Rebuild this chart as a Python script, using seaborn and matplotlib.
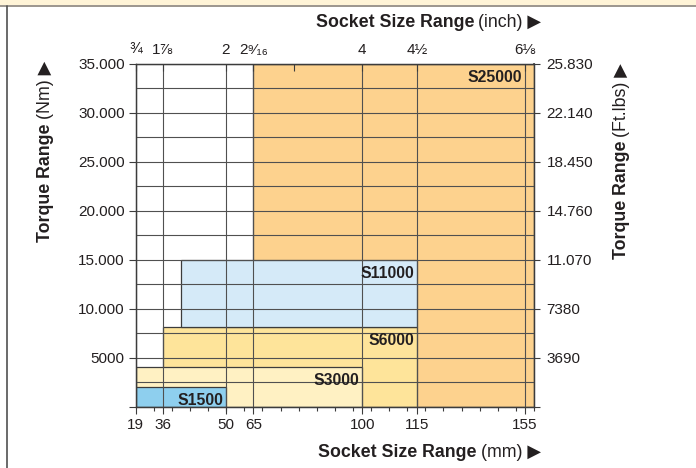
import numpy as np
import matplotlib
matplotlib.use("Agg")
import matplotlib.pyplot as plt
from matplotlib.lines import Line2D
from matplotlib.patches import Rectangle
from matplotlib.ticker import FixedLocator, MultipleLocator
import seaborn as sns

# wrench models: socket range (mm) and torque range (Nm)
models = ["S25000", "S6000", "S11000", "S3000", "S1500"]
socket_from_mm = [65, 36, 40, 19, 19]
socket_to_mm = [158, 115, 115, 100, 50]
torque_from_nm = [0, 0, 8140, 0, 0]
torque_to_nm = [35000, 8140, 14950, 4070, 2030]
box_colors = ["#FDD28E", "#FEE49A", "#D5EAF8", "#FFF1C3", "#8ECFEE"]

mm_ticks = [19, 36, 50, 65, 100, 115, 155]
inch_ticks = [19, 36, 50, 65, 78, 100, 115, 155]
inch_labels = ["¾", "1⅞", "2", "2⁹⁄₁₆", "", "4", "4½", "6⅛"]
nm_ticks = [0, 5000, 10000, 15000, 20000, 25000, 30000, 35000]
nm_labels = ["", "5000", "10.000", "15.000", "20.000", "25.000", "30.000", "35.000"]
ftlb_labels = ["", "3690", "7380", "11.070", "14.760", "18.450", "22.140", "25.830"]

W, H = 696, 468
ink = "#231F20"
line_col = "#3C3C3C"
grid_col = "#505050"
title_size = 12.8

# the socket axis in the original is not linear: pixel spot of each break
mm_breaks = [19, 36, 50, 65, 100, 115, 155, 158]
px_breaks = [135.7, 162.7, 226.0, 253.3, 362.3, 417.3, 525.0, 534.0]
ext_mm = np.r_[mm_breaks[0] - 1e4, mm_breaks, mm_breaks[-1] + 1e4]
ext_px = np.r_[px_breaks[0] - 1e4, px_breaks, px_breaks[-1] + 1e4]


def to_pos(x):
    return np.interp(x, ext_mm, ext_px)


def from_pos(p):
    return np.interp(p, ext_px, ext_mm)


sns.set_theme(style="ticks")
plt.rcParams["font.family"] = ["Liberation Sans", "DejaVu Sans"]
plt.rcParams["text.color"] = ink

fig = plt.figure(figsize=(W / 100, H / 100), dpi=100)
ax = fig.add_axes([135.7 / W, 1 - 406.5 / H, (534 - 135.7) / W, (406.5 - 63.5) / H])
ax.set_xscale("function", functions=(to_pos, from_pos))
ax.set_xlim(19, 158)
ax.set_ylim(0, 35000)

ax.bar(socket_from_mm, np.subtract(torque_to_nm, torque_from_nm),
       width=np.subtract(socket_to_mm, socket_from_mm), bottom=torque_from_nm,
       align="edge", color=box_colors, edgecolor=line_col, linewidth=0.9, zorder=1)

for name, x1, y1 in zip(models, socket_to_mm, torque_to_nm):
    ax.annotate(name, xy=(min(x1, mm_ticks[-1]), y1), xytext=(-3, -6),
                textcoords="offset pixels", ha="right", va="top",
                fontsize=11.3, fontweight="bold", color=ink, zorder=4)

# ticks and grid
ax.set_xticks(mm_ticks, [str(v) for v in mm_ticks])
lo, hi = to_pos(19), to_pos(158)
ax.xaxis.set_minor_locator(FixedLocator(from_pos(np.linspace(lo, hi, 23))))
ax.set_yticks(nm_ticks, nm_labels)
ax.yaxis.set_minor_locator(MultipleLocator(2500))
ax.grid(True, which="major", axis="x", color=grid_col, linewidth=0.8)
ax.grid(True, which="both", axis="y", color=grid_col, linewidth=0.8)
ax.set_axisbelow(False)

ax.tick_params(axis="x", which="major", bottom=True, direction="out", length=5,
               width=0.8, pad=3.5, labelsize=11, colors=line_col, labelcolor=ink)
ax.tick_params(axis="x", which="minor", bottom=True, direction="out", length=3,
               width=0.8, colors=line_col)
ax.tick_params(axis="y", which="major", left=True, direction="out", length=5,
               width=0.8, pad=3, labelsize=11, colors=line_col, labelcolor=ink)
ax.tick_params(axis="y", which="minor", length=0)
for s in ax.spines.values():
    s.set_color(line_col)
    s.set_linewidth(0.9)

# inch axis on top
ax_top = ax.twiny()
ax_top.set_xscale("function", functions=(to_pos, from_pos))
ax_top.set_xlim(19, 158)
ax_top.set_xticks(inch_ticks, inch_labels)
ax_top.xaxis.set_minor_locator(FixedLocator([]))
ax_top.tick_params(axis="x", top=True, bottom=False, direction="in", length=5,
                   width=0.8, pad=5, labelsize=11, colors=line_col, labelcolor=ink)
for s in ax_top.spines.values():
    s.set_color(line_col)
    s.set_linewidth(0.9)

# ft.lbs axis on the right
sec = ax.secondary_yaxis("right")
sec.set_yticks(nm_ticks, ftlb_labels)
sec.tick_params(axis="y", direction="out", length=4.5, width=0.8, pad=4.5,
                labelsize=11, colors=line_col, labelcolor=ink)
sec.spines["right"].set_color(line_col)

# axis titles, bold part + plain part
tail = fig.text(541 / W, 1 - 27 / H, "(inch) ▶", ha="right", va="baseline", fontsize=title_size)
ax.annotate("Socket Size Range", xy=(0, 0), xycoords=tail, xytext=(-4, 0),
            textcoords="offset pixels", ha="right", va="bottom",
            fontsize=title_size, fontweight="bold", annotation_clip=False)

tail = fig.text(541 / W, 1 - 457 / H, "(mm) ▶", ha="right", va="baseline", fontsize=title_size)
ax.annotate("Socket Size Range", xy=(0, 0), xycoords=tail, xytext=(-4, 0),
            textcoords="offset pixels", ha="right", va="bottom",
            fontsize=title_size, fontweight="bold", annotation_clip=False)

tail = fig.text(46 / W, 1 - 61 / H, "(Nm) ▶", rotation=90, ha="center", va="top", fontsize=title_size)
ax.annotate("Torque Range", xy=(0.5, 0), xycoords=tail, xytext=(0, -4),
            textcoords="offset pixels", rotation=90, ha="center", va="top",
            fontsize=title_size, fontweight="bold", annotation_clip=False)

tail = fig.text(621 / W, 1 - 63 / H, "(Ft.lbs) ▶", rotation=90, ha="center", va="top", fontsize=title_size)
ax.annotate("Torque Range", xy=(0.5, 0), xycoords=tail, xytext=(0, -4),
            textcoords="offset pixels", rotation=90, ha="center", va="top",
            fontsize=title_size, fontweight="bold", annotation_clip=False)

# page frame: beige header strip and left rule
fig.patches.append(Rectangle((0, 1 - 5 / H), 1, 5 / H, transform=fig.transFigure,
                             facecolor="#FFF4D7", edgecolor="none"))
fig.add_artist(Line2D([0, 1], [1 - 5.8 / H] * 2, color="#8B847A", linewidth=1.2))
fig.add_artist(Line2D([6.5 / W] * 2, [0, 1 - 5.8 / H], color="#505050", linewidth=1.2))

fig.savefig("out.png", dpi=100)
